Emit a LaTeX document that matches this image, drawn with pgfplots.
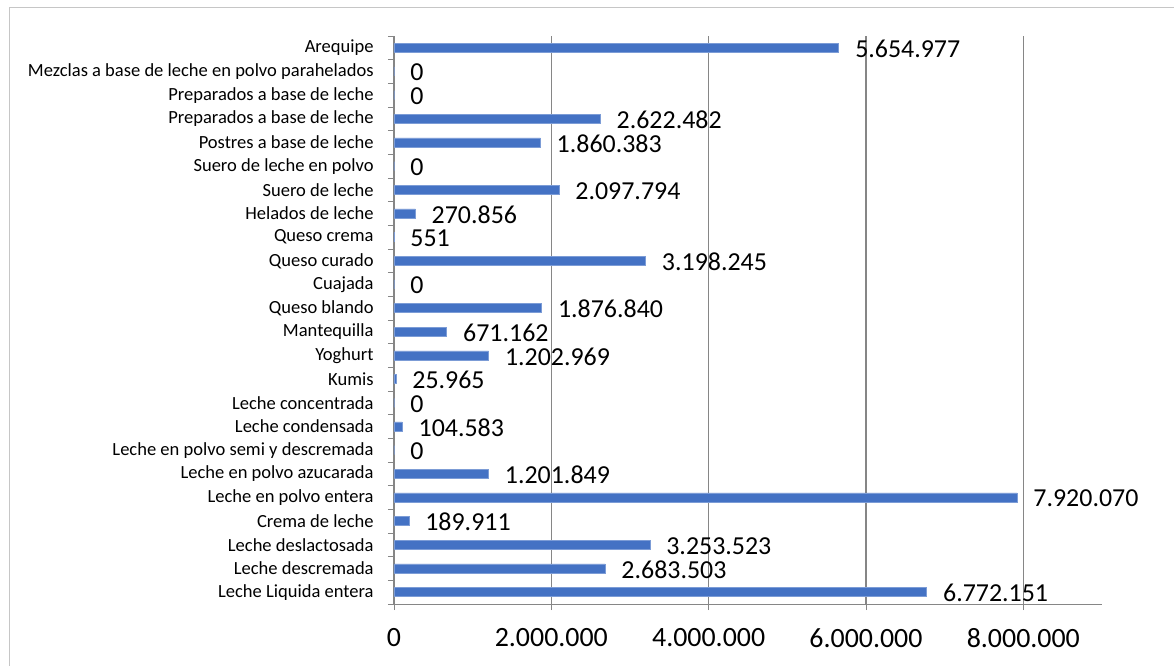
\documentclass[border=0pt]{standalone}
\usepackage{pgfplots}
\pgfplotsset{compat=1.18}
\usepackage{fontspec}
\setmainfont{Carlito}
\definecolor{barblue}{RGB}{68,114,196}
\definecolor{gridgray}{RGB}{134,134,134}
\begin{document}
\begin{tikzpicture}
% 1 px of the reference = 0.5bp; axis box lower left sits at (0,0)
\useasboundingbox (-197bp,-31bp) rectangle (390bp,302bp);
\draw[gray!45] (-192.5bp,298.5bp) rectangle (420bp,-60bp);
\begin{axis}[
    scale only axis,
    width=354bp, height=284bp,
    xbar,
    bar width=4.5bp,
    xmin=0, xmax=9000000,
    ymin=-0.5, ymax=23.5,
    axis x line=bottom, axis y line=left,
    axis line style={gridgray, -},
    xmajorgrids,
    grid style={gridgray, line width=0.6pt},
    tick align=outside,
    major tick length=3bp,
    tick style={gridgray},
    xtick={0,2000000,4000000,6000000,8000000},
    scaled x ticks=false,
    xticklabel style={font=\fontsize{14}{16}\selectfont, inner sep=0pt, yshift=-9bp},
    ytick={-0.5,0.5,...,23.5},
    yticklabels={},
    extra y ticks={0,1,...,23},
    extra y tick labels={Leche Liquida entera, Leche descremada, Leche deslactosada, Crema de leche, Leche en polvo entera, Leche en polvo azucarada, Leche en polvo semi y descremada\ , Leche condensada, Leche concentrada, Kumis, Yoghurt, Mantequilla, Queso blando, Cuajada, Queso curado, Queso crema, Helados de leche, Suero de leche, Suero de leche en polvo, Postres a base de leche, Preparados a base de leche, Preparados a base de leche, Mezclas a base de leche en polvo parahelados, Arequipe},
    extra y tick style={major tick length=0pt, tick style={draw=none},
        yticklabel style={font=\fontsize{9.3}{11}\selectfont, anchor=east, inner sep=0pt, xshift=-10bp}},
    /pgf/number format/fixed,
    /pgf/number format/precision=0,
    /pgf/number format/1000 sep={.},
    /pgf/number format/assume math mode=true,
    point meta=x,
    nodes near coords,
    every node near coord/.append style={font=\fontsize{13}{15}\selectfont, anchor=west, inner sep=0pt, xshift=8bp, yshift=-0.5bp, black},
]
\addplot[fill=barblue, draw=barblue!70!white] coordinates {
(6772151,0) (2683503,1) (3253523,2) (189911,3) (7920070,4) (1201849,5)
(0,6) (104583,7) (0,8) (25965,9) (1202969,10) (671162,11)
(1876840,12) (0,13) (3198245,14) (551,15) (270856,16) (2097794,17)
(0,18) (1860383,19) (2622482,20) (0,21) (0,22) (5654977,23)
};
\end{axis}
\end{tikzpicture}
\end{document}
